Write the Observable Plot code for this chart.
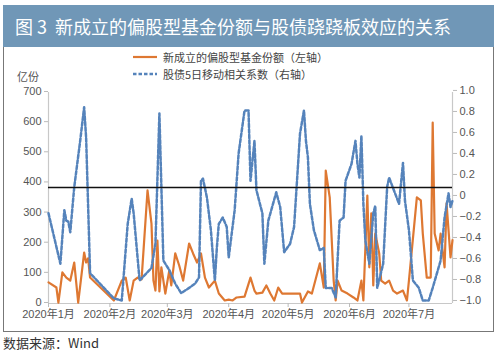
<!DOCTYPE html>
<html>
<head>
<meta charset="utf-8">
<script src="https://cdn.jsdelivr.net/npm/d3@7"></script>
<script src="https://cdn.jsdelivr.net/npm/@observablehq/plot@0.6"></script>
<style>
  html, body { margin: 0; padding: 0; background: #fff; }
  body { width: 500px; height: 351px; position: relative; overflow: hidden;
         font-family: "Liberation Sans", "Noto Sans CJK SC", sans-serif; }
  #header { position: absolute; left: 3px; top: 5px; width: 491px; height: 42px;
            background: #7097b7; color: #fff; font-size: 18px; line-height: 42px;
            font-family: "Noto Sans CJK SC", sans-serif; padding-left: 12px; box-sizing: border-box; }
  #box { position: absolute; left: 3px; top: 47px; width: 491px; height: 285px;
         border: 1px solid #777; border-top: none; box-sizing: border-box; }
  .leg { position: absolute; left: 133px; font-size: 11px; color: #444;
         font-family: "Noto Sans CJK SC", sans-serif; display: flex; align-items: center; }
  .leg svg { margin-right: 6px; }
  #unit { position: absolute; left: 17px; top: 68px; font-size: 11px; color: #555;
          font-family: "Noto Sans CJK SC", sans-serif; }
  #chart { position: absolute; left: 0; top: 80px; }
  #caption { position: absolute; left: 3px; top: 333px; font-size: 13px; color: #333;
             font-family: "Noto Sans CJK SC", sans-serif; }
</style>
</head>
<body>
<div id="header">图 3&nbsp;&nbsp;新成立的偏股型基金份额与股债跷跷板效应的关系</div>
<div id="box"></div>
<div class="leg" style="top:49px"><svg width="24" height="6"><line x1="0" y1="3" x2="24" y2="3" stroke="#de7832" stroke-width="2.2"/></svg>新成立的偏股型基金份额（左轴）</div>
<div class="leg" style="top:66px"><svg width="24" height="6"><line x1="0" y1="3" x2="24" y2="3" stroke="#5583bb" stroke-width="2.5" stroke-dasharray="3.5,2"/></svg>股债5日移动相关系数（右轴）</div>
<div id="unit">亿份</div>
<div id="chart"></div>
<div id="caption">数据来源：Wind</div>
<script>
// 新成立的偏股型基金份额（亿份，左轴）
const fundDates = [
  "2020-01-02","2020-01-06","2020-01-07","2020-01-09","2020-01-11","2020-01-13","2020-01-15","2020-01-17",
  "2020-01-20","2020-01-21","2020-01-22","2020-01-23","2020-02-04","2020-02-08","2020-02-10","2020-02-12",
  "2020-02-14","2020-02-16","2020-02-18","2020-02-21","2020-02-23","2020-02-24","2020-02-25","2020-02-26",
  "2020-02-27","2020-02-28","2020-03-01","2020-03-03","2020-03-04","2020-03-06","2020-03-08","2020-03-10",
  "2020-03-13","2020-03-15","2020-03-17","2020-03-19","2020-03-21","2020-03-23","2020-03-26","2020-03-28",
  "2020-03-31","2020-04-02","2020-04-04","2020-04-06","2020-04-10","2020-04-13","2020-04-15","2020-04-16",
  "2020-04-19","2020-04-21","2020-04-23","2020-04-25","2020-04-27","2020-04-29","2020-05-01","2020-05-04",
  "2020-05-08","2020-05-09","2020-05-12","2020-05-14","2020-05-18","2020-05-20","2020-05-21","2020-05-23",
  "2020-05-25","2020-05-26","2020-05-27","2020-05-29","2020-06-01","2020-06-04","2020-06-06","2020-06-08",
  "2020-06-09","2020-06-11","2020-06-12","2020-06-13","2020-06-14","2020-06-15","2020-06-17","2020-06-18",
  "2020-06-20","2020-06-22","2020-06-24","2020-06-26","2020-06-29","2020-07-01","2020-07-02","2020-07-06",
  "2020-07-08","2020-07-09","2020-07-11","2020-07-13","2020-07-14","2020-07-15","2020-07-17","2020-07-18",
  "2020-07-20","2020-07-21","2020-07-23","2020-07-24"
];
const fundValues = [
  70, 53, 3, 103, 86, 76, 136, 3,
  169, 136, 150, 86, 10, 76, 86, 10,
  76, 86, 80, 375, 265, 76, 43, 209,
  40, 120, 33, 110, 60, 166, 126, 76,
  199, 166, 136, 166, 86, 53, 76, 33,
  10, 13, 10, 20, 23, 86, 43, 33,
  36, 60, 33, 10, 53, 33, 33, 33,
  33, 3, 40, 33, 133, 53, 441, 352,
  76, 10, 76, 43, 33, 20, 10, 76,
  10, 358, 120, 299, 60, 232, 166, 76,
  66, 76, 43, 33, 43, 10, 76, 352,
  342, 232, 86, 86, 600, 232, 176, 232,
  120, 332, 153, 210
];

// 股债5日移动相关系数（右轴）
const corrDates = [
  "2020-01-02","2020-01-08","2020-01-10","2020-01-11","2020-01-12","2020-01-13","2020-01-15","2020-01-18",
  "2020-01-20","2020-01-21","2020-01-23","2020-02-04","2020-02-08","2020-02-11","2020-02-13","2020-02-14",
  "2020-02-17","2020-02-23","2020-02-25","2020-02-27","2020-02-29","2020-03-03","2020-03-06","2020-03-09",
  "2020-03-13","2020-03-16","2020-03-18","2020-03-19","2020-03-20","2020-03-22","2020-03-24","2020-03-26",
  "2020-03-27","2020-03-28","2020-03-30","2020-04-01","2020-04-02","2020-04-05","2020-04-07","2020-04-10",
  "2020-04-12","2020-04-13","2020-04-15","2020-04-16","2020-04-19","2020-04-20","2020-04-22","2020-04-26",
  "2020-04-28","2020-04-30","2020-05-03","2020-05-05","2020-05-08","2020-05-10","2020-05-11","2020-05-12",
  "2020-05-13","2020-05-15","2020-05-18","2020-05-20","2020-05-21","2020-05-24","2020-05-26","2020-05-28",
  "2020-05-30","2020-05-31","2020-06-03","2020-06-05","2020-06-06","2020-06-07","2020-06-08","2020-06-09",
  "2020-06-10","2020-06-12","2020-06-14","2020-06-15","2020-06-16","2020-06-19","2020-06-21","2020-06-22",
  "2020-06-25","2020-06-27","2020-06-29","2020-06-30","2020-07-02","2020-07-04","2020-07-07","2020-07-09",
  "2020-07-12","2020-07-14","2020-07-18","2020-07-20","2020-07-22","2020-07-23","2020-07-24"
];
const corrValues = [
  -0.17, -0.65, -0.14, -0.24, -0.25, -0.35, 0.08, 0.52,
  0.84, 0.55, -0.74, -0.98, -1.0, -0.27, -0.03, -0.17,
  -0.81, -0.69, -0.46, 0.78, -0.62, -0.71, -0.84, -0.93,
  -0.88, -0.84, -0.78, 0.14, 0.16, -0.02, -0.33, -0.81,
  -0.5, -0.27, -0.21, -0.3, -0.59, -0.14, 0.40, 0.81,
  0.81, 0.14, 0.52, 0.05, -0.17, -0.65, -0.24, 0.03,
  -0.11, -0.54, -0.46, -0.30, 0.59, 0.81, 0.52, 0.36,
  -0.08, -0.33, -0.52, -0.5, -0.88, -0.88, -0.97, -0.24,
  -0.21, 0.14, 0.30, 0.52, 0.30, 0.17, 0.57, -0.08,
  -0.43, -0.65, -0.17, -0.1, -0.88, -0.65, 0.08, 0.17,
  0.02, -0.08, 0.31, -0.05, -0.33, -0.81, -0.88, -1.0,
  -1.0, -0.88, -0.62, -0.21, 0.02, -0.11, -0.05
];

const leftTicks = [0, 100, 200, 300, 400, 500, 600, 700];
const rightTicks = [1.0, 0.8, 0.6, 0.4, 0.2, 0, -0.2, -0.4, -0.6, -0.8, -1.0];
const rightTickLabels = ["1.0", "0.8", "0.6", "0.4", "0.2", "0", "\u22120.2", "\u22120.4", "\u22120.6", "\u22120.8", "\u22121.0"];
const monthTickDates = ["2020-01-02", "2020-02-02", "2020-03-02", "2020-04-02", "2020-05-02", "2020-06-02", "2020-07-02"];
const monthTickLabels = ["2020年1月", "2020年2月", "2020年3月", "2020年4月", "2020年5月", "2020年6月", "2020年7月"];
const xStart = "2020-01-02", xEnd = "2020-07-24";
const refLineValue = 385; // black horizontal line, left-axis units

// secondary axis mapped onto primary (left) scale
const rToLeft = r => 10 + (r + 1) * 348.4;

const fund = fundDates.map((d, i) => ({date: new Date(d), v: fundValues[i]}));
const corr = corrDates.map((d, i) => ({date: new Date(d), v: rToLeft(corrValues[i])}));
const rightMap = new Map(rightTicks.map((r, i) => [rToLeft(r), rightTickLabels[i]]));
const monthMap = new Map(monthTickDates.map((d, i) => [+new Date(d), monthTickLabels[i]]));

const chart = Plot.plot({
  width: 500,
  height: 242,
  marginLeft: 48,
  marginRight: 48,
  marginTop: 12,
  marginBottom: 19,
  style: {fontFamily: "'Liberation Sans', 'Noto Sans CJK SC', sans-serif", fontSize: "11px", color: "#555", background: "transparent"},
  x: {type: "utc", domain: [new Date(xStart), new Date(xEnd)]},
  y: {domain: [0, 700]},
  marks: [
    Plot.ruleX([new Date(xStart)], {stroke: "#c8c8c8", strokeWidth: 1.2}),
    Plot.ruleX([new Date(xEnd)], {stroke: "#c8c8c8", strokeWidth: 1.2}),
    Plot.ruleY([0], {stroke: "#c8c8c8", strokeWidth: 1.2}),
    Plot.axisY({ticks: leftTicks, tickSize: 4, tickPadding: 3, label: null, stroke: "#bbb", dy: -1, tickFormat: d => String(d)}),
    Plot.axisY({anchor: "right", ticks: rightTicks.map(rToLeft), tickSize: 4, tickPadding: 3, label: null, stroke: "#bbb",
                tickFormat: d => rightMap.get(d)}),
    Plot.axisX({ticks: monthTickDates.map(d => new Date(d)), tickSize: 4, tickPadding: 3, label: null, stroke: "#bbb",
                tickFormat: d => monthMap.get(+d)}),
    Plot.line(fund, {x: "date", y: "v", stroke: "#de7832", strokeWidth: 2.2, strokeLinejoin: "round"}),
    Plot.line(corr, {x: "date", y: "v", stroke: "#5583bb", strokeWidth: 2.5, strokeDasharray: "3.5,2"}),
    Plot.ruleY([refLineValue], {stroke: "#111", strokeWidth: 1.6})
  ]
});
document.getElementById("chart").appendChild(chart);
</script>
</body>
</html>
